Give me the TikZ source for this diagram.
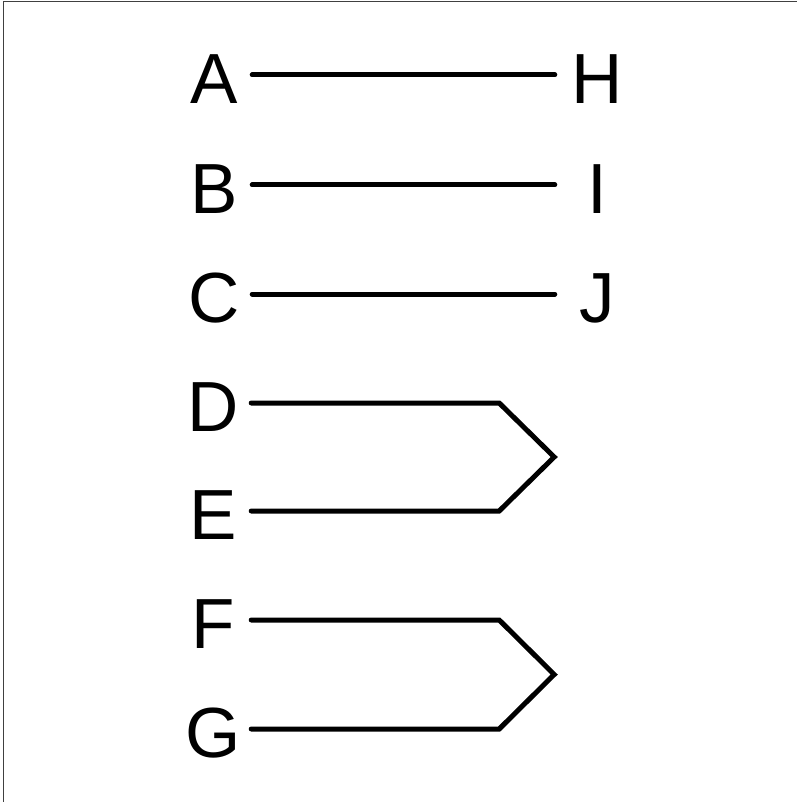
\documentclass[tikz,border=0pt]{standalone}
\usepackage{fontspec}
\setmainfont{Liberation Sans}
\usetikzlibrary{calc}
\tikzset{
  letter/.style={font=\fontsize{71}{71}\selectfont, inner sep=0, text height=57pt, text depth=0pt},
  leftletter/.style={letter, minimum width=76pt},
  rightletter/.style={letter, minimum width=84pt},
  wire/.style={line width=5pt, line cap=round, line join=miter}
}
\begin{document}
\begin{tikzpicture}[x=1pt, y=-1pt]
          \useasboundingbox (0,0) rectangle (797,802);
          \draw[color=black!75, line width=1pt] (3,802) -- (3,2) -- (797,2);
          % straight pairs
          \node[leftletter] (A) at (214,75) {A};
          \node[leftletter] (B) at (214,185) {B};
          \node[leftletter] (C) at (214,294) {C};
          \node[rightletter] (H) at (597,75) {H};
          \node[rightletter] (I) at (597,185) {I};
          \node[rightletter] (J) at (597,294) {J};
          \draw[wire] (A.east) -- (H.west);
          \draw[wire] (B.east) -- (I.west);
          \draw[wire] (C.east) -- (J.west);
          % joined pairs
          \node[leftletter] (D) at (213,403) {D};
          \node[leftletter] (E) at (213,511) {E};
          \node[leftletter] (F) at (213,620) {F};
          \node[leftletter] (G) at (213,729) {G};
          \draw[wire] (D.east) -- ([xshift=248pt]D.east) --
          ($(D.east)!.5!(E.east)+(303,0)$) --
          ([xshift=248pt]E.east) -- (E.east);
          \draw[wire] (F.east) -- ([xshift=248pt]F.east) --
          ($(F.east)!.5!(G.east)+(303,0)$) --
          ([xshift=248pt]G.east) -- (G.east);
        \end{tikzpicture}
\end{document}
